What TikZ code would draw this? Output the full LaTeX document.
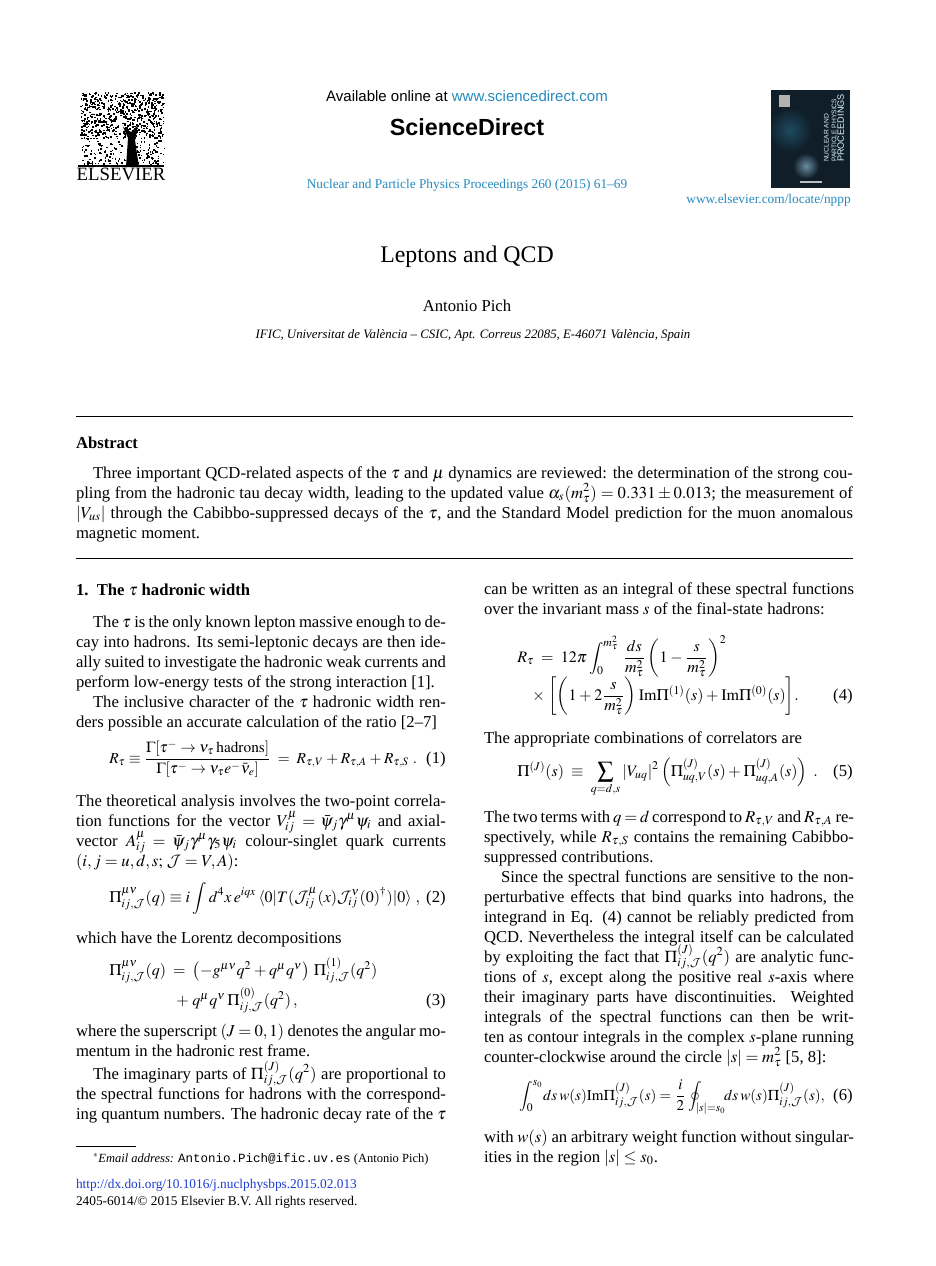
\documentclass[tikz,border=0pt]{standalone}
\usepackage{amsmath}
\usepackage{mathptmx}
\usepackage{fontspec}
\setmainfont{Liberation Serif}
\setmonofont{Liberation Mono}
\newfontfamily\hsans{Liberation Sans}
\usepackage{tikz}
\usetikzlibrary{positioning}
\usepackage{xcolor}
\definecolor{elsblue}{RGB}{38,138,190}
\definecolor{doiblue}{RGB}{30,60,210}
\definecolor{coverbg}{RGB}{16,30,42}
\definecolor{coverglow}{RGB}{105,140,160}
\definecolor{coverteal}{RGB}{30,75,95}
\DeclareMathAlphabet{\mathcalcm}{OMS}{cmsy}{m}{n}
\newcommand\cJ{\mathcalcm{J}}
\newlength\colw
\setlength\colw{222pt}
\newcommand\jl[1]{\hbox to \colw{#1}}
\newcommand\il[1]{\hbox to \colw{\hskip 10.2pt #1}}
\newcommand\lastl[1]{\hbox{#1}}
\newcommand\textbox[2][222pt]{\vtop{\colw=#1\relax\fontsize{10}{12}\selectfont\lineskiplimit=-\maxdimen\lineskip=0pt #2}}
\newcommand\tightmath{\fontsize{9.6}{12}\selectfont\thinmuskip=2.5mu\medmuskip=3mu plus 1mu minus 2mu\thickmuskip=4mu plus 2mu}

\begin{document}
\begin{tikzpicture}[x=0.6pt, y=-0.6pt,
	txt/.style={anchor=base west, inner sep=0pt, outer sep=0pt},
	ctr/.style={anchor=base, inner sep=0pt, outer sep=0pt},
	eqn/.style={anchor=base west, inner sep=0pt, font=\tightmath},
	eqno/.style={anchor=base east, inner sep=0pt, font=\fontsize{10}{12}\selectfont},
	small/.style={font=\fontsize{8}{10}\selectfont},
	hrule/.style={line width=0.6pt}]
				\useasboundingbox [fill=white] (0, 0) rectangle (935, 1266);
				\pgfmathsetseed{12}
				\foreach \k in {1,...,650} {\fill [black] ({80+83*rnd}, {92+46*rnd}) rectangle +(1.6, 1.6);}
				\foreach \k in {1,...,160} {\fill [black] ({80+84*rnd}, {140+24*rnd}) rectangle +(1.6, 1.6);}
				\fill [black] (126, 167)--(128, 138)--(123, 127)--(131, 132)--(138, 125)--(135, 140)--(139, 167)--cycle;
				\draw [black, line width=1pt] (78, 166)--(164, 166);
				\node [ctr, font=\fontsize{11.3}{13}\selectfont] (elslogo) at (121, 180) {ELSEVIER};
				\node [ctr, font=\hsans\fontsize{9}{11}\selectfont] (avail) at (467, 101) {Available online at \textcolor{elsblue}{www.sciencedirect.com}};
				\node [ctr, font=\hsans\bfseries\fontsize{14}{16}\selectfont] (sdlogo) at (467, 135) {ScienceDirect};
				\node [ctr, small, text=elsblue] (journal) at (467, 188) {Nuclear and Particle Physics Proceedings 260 (2015) 61--69};
				\begin{scope}
					\clip (771, 90) rectangle (850, 188);
					\fill [coverbg] (771, 90) rectangle (850, 188);
					\shade [inner color=coverteal, outer color=coverbg] (790, 130) circle (22);
					\shade [inner color=coverglow, outer color=coverbg] (806, 166) circle (13);
				\end{scope}
				\fill [gray!60] (779, 95) rectangle (790, 107);
				\node [rotate=90, font=\hsans\fontsize{4}{4.6}\selectfont, text=white!85!cyan, align=left, inner sep=0pt] (covtitle) at (834, 128) {NUCLEAR AND\\PARTICLE PHYSICS\\{\fontsize{5.5}{6}\selectfont PROCEEDINGS}};
				\fill [gray!50] (800, 181) rectangle (822, 183);
				\node [anchor=base east, small, inner sep=0pt, text=elsblue] (locate) at (851, 203) {www.elsevier.com/locate/nppp};
				\node [ctr, font=\fontsize{14.3}{17}\selectfont] (title) at (467, 262) {Leptons and QCD};
				\node [ctr, font=\fontsize{10}{12}\selectfont] (author) at (467, 311) {Antonio Pich};
				\node [ctr, font=\fontsize{7.7}{9}\selectfont\itshape] (affil) at (473, 338) {IFIC, Universitat de València -- CSIC, Apt. Correus 22085, E-46071 València, Spain};
				\draw [hrule] (76, 416)--(853, 416);
				\node [txt, font=\bfseries\fontsize{10}{12}\selectfont] (abshead) at (76, 448) {Abstract};
				\node [txt] (abstext) at (76, 478) {\textbox[466.2pt]{%
					\il{Three important QCD-related aspects of the $\tau$ and $\mu$ dynamics are reviewed: the determination of the strong cou-}%
					\jl{pling from the hadronic tau decay width, leading to the updated value $\alpha_s(m_\tau^2)=0.331\pm0.013$; the measurement of}%
					\jl{$|V_{us}|$ through the Cabibbo-suppressed decays of the $\tau$, and the Standard Model prediction for the muon anomalous}%
					\lastl{magnetic moment.}}};
				\draw [hrule] (76, 558)--(853, 558);
				\node [txt, font=\bfseries\fontsize{10}{12}\selectfont] (sechead) at (76, 595) {1.\ \ The $\tau$ hadronic width};
				\node [txt] (pa) at (76, 627) {\textbox{%
					\il{The $\tau$ is the only known lepton massive enough to de-}%
					\jl{cay into hadrons. Its semi-leptonic decays are then ide-}%
					\jl{ally suited to investigate the hadronic weak currents and}%
					\lastl{perform low-energy tests of the strong interaction [1].}}};
				\node [txt] (pb) at (76, 707) {\textbox{%
					\il{The inclusive character of the $\tau$ hadronic width ren-}%
					\lastl{ders possible an accurate calculation of the ratio [2--7]}}};
				\node [eqn, font=\tightmath\fontsize{9.2}{12}\selectfont] (eqa) at (109, 763) {$R_\tau\equiv\dfrac{\Gamma[\tau^-\to\nu_\tau\,\mathrm{hadrons}]}{\Gamma[\tau^-\to\nu_\tau e^-\bar\nu_e]}\;=\;R_{\tau,V}+R_{\tau,A}+R_{\tau,S}\ .$};
				\node [eqno] (na) at (446, 763) {(1)};
				\node [txt] (pc) at (76, 806) {\textbox{%
					\jl{The theoretical analysis involves the two-point correla-}%
					\jl{tion functions for the vector $V^\mu_{ij}=\bar\psi_j\gamma^\mu\psi_i$ and axial-}%
					\jl{vector $A^\mu_{ij}=\bar\psi_j\gamma^\mu\gamma_5\psi_i$ colour-singlet quark currents}%
					\lastl{$(i,j=u,d,s;\,\cJ=V,A)$:}}};
				\node [eqn] (eqb) at (109, 902) {$\Pi^{\mu\nu}_{ij,\cJ}(q)\equiv i\displaystyle\int d^4x\,e^{iqx}\,\langle0|T(\cJ^\mu_{ij}(x)\cJ^\nu_{ij}(0)^\dagger)|0\rangle\ ,$};
				\node [eqno] (nb) at (446, 902) {(2)};
				\node [txt] (pd) at (76, 943) {\textbox{\lastl{which have the Lorentz decompositions}}};
				\node [eqn] (eqc) at (109, 975) {$\Pi^{\mu\nu}_{ij,\cJ}(q)\;=\;\left(-g^{\mu\nu}q^2+q^\mu q^\nu\right)\,\Pi^{(1)}_{ij,\cJ}(q^2)$};
				\node [eqn] (eqd) at (176, 1005) {$+\;q^\mu q^\nu\,\Pi^{(0)}_{ij,\cJ}(q^2)\,,$};
				\node [eqno] (nc) at (446, 1005) {(3)};
				\node [txt] (pe) at (76, 1036) {\textbox{%
					\jl{where the superscript $(J=0,1)$ denotes the angular mo-}%
					\lastl{mentum in the hadronic rest frame.}}};
				\node [txt] (pf) at (76, 1079) {\textbox{%
					\il{The imaginary parts of $\Pi^{(J)}_{ij,\cJ}(q^2)$ are proportional to}%
					\jl{the spectral functions for hadrons with the correspond-}%
					\jl{ing quantum numbers. The hadronic decay rate of the $\tau$}}};
				\draw [line width=0.5pt] (76, 1146)--(136, 1146);
				\node [txt, font=\fontsize{7.5}{9}\selectfont] (foot) at (93, 1162) {$^*$\textit{Email address:} \texttt{Antonio.Pich@ific.uv.es} (Antonio Pich)};
				\node [txt, small, text=doiblue] (doi) at (76, 1188) {http://dx.doi.org/10.1016/j.nuclphysbps.2015.02.013};
				\node [txt, small] (copy) at (76, 1205) {2405-6014/© 2015 Elsevier B.V. All rights reserved.};
				\node [txt] (pg) at (484, 594) {\textbox{%
					\jl{can be written as an integral of these spectral functions}%
					\lastl{over the invariant mass $s$ of the final-state hadrons:}}};
				\node [eqn] (eqe) at (517, 662) {$R_\tau\;=\;12\pi\displaystyle\int_0^{m_\tau^2}\,\frac{ds}{m_\tau^2}\left(1-\frac{s}{m_\tau^2}\right)^2$};
				\node [eqn] (eqf) at (532, 700) {$\times\;\biggl[\biggl(1+2\dfrac{s}{m_\tau^2}\biggr)\,\mathrm{Im}\Pi^{(1)}(s)+\mathrm{Im}\Pi^{(0)}(s)\biggr].$};
				\node [eqno] (nd) at (853, 700) {(4)};
				\node [txt] (ph) at (484, 743) {\textbox{\lastl{The appropriate combinations of correlators are}}};
				\node [eqn] (eqg) at (517, 776) {$\Pi^{(J)}(s)\;\equiv\;\displaystyle\sum_{q=d,s}|V_{uq}|^2\left(\Pi^{(J)}_{uq,V}(s)+\Pi^{(J)}_{uq,A}(s)\right)\ .$};
				\node [eqno] (ne) at (853, 776) {(5)};
				\node [txt] (pi) at (484, 822) {\textbox{%
					\jl{The two terms with $q=d$ correspond to $R_{\tau,V}$ and $R_{\tau,A}$ re-}%
					\jl{spectively, while $R_{\tau,S}$ contains the remaining Cabibbo-}%
					\lastl{suppressed contributions.}}};
				\node [txt] (pj) at (484, 882) {\textbox{%
					\il{Since the spectral functions are sensitive to the non-}%
					\jl{perturbative effects that bind quarks into hadrons, the}%
					\jl{integrand in Eq. (4) cannot be reliably predicted from}%
					\jl{QCD. Nevertheless the integral itself can be calculated}%
					\jl{by exploiting the fact that $\Pi^{(J)}_{ij,\cJ}(q^2)$ are analytic func-}%
					\jl{tions of $s$, except along the positive real $s$-axis where}%
					\jl{their imaginary parts have discontinuities.\ \ Weighted}%
					\jl{integrals of the spectral functions can then be writ-}%
					\jl{ten as contour integrals in the complex $s$-plane running}%
					\lastl{counter-clockwise around the circle $|s|=m_\tau^2$ [5, 8]:}}};
				\node [eqn, font=\tightmath\fontsize{9}{12}\selectfont] (eqh) at (519, 1100) {$\displaystyle\int_0^{s_0}\!ds\,w(s)\mathrm{Im}\Pi^{(J)}_{ij,\cJ}(s)=\frac{i}{2}\oint_{|s|=s_0}\!\!ds\,w(s)\Pi^{(J)}_{ij,\cJ}(s),$};
				\node [eqno] (nf) at (853, 1100) {(6)};
				\node [txt] (pk) at (484, 1142) {\textbox{%
					\jl{with $w(s)$ an arbitrary weight function without singular-}%
					\lastl{ities in the region $|s|\le s_0$.}}};
\end{tikzpicture}
\end{document}
